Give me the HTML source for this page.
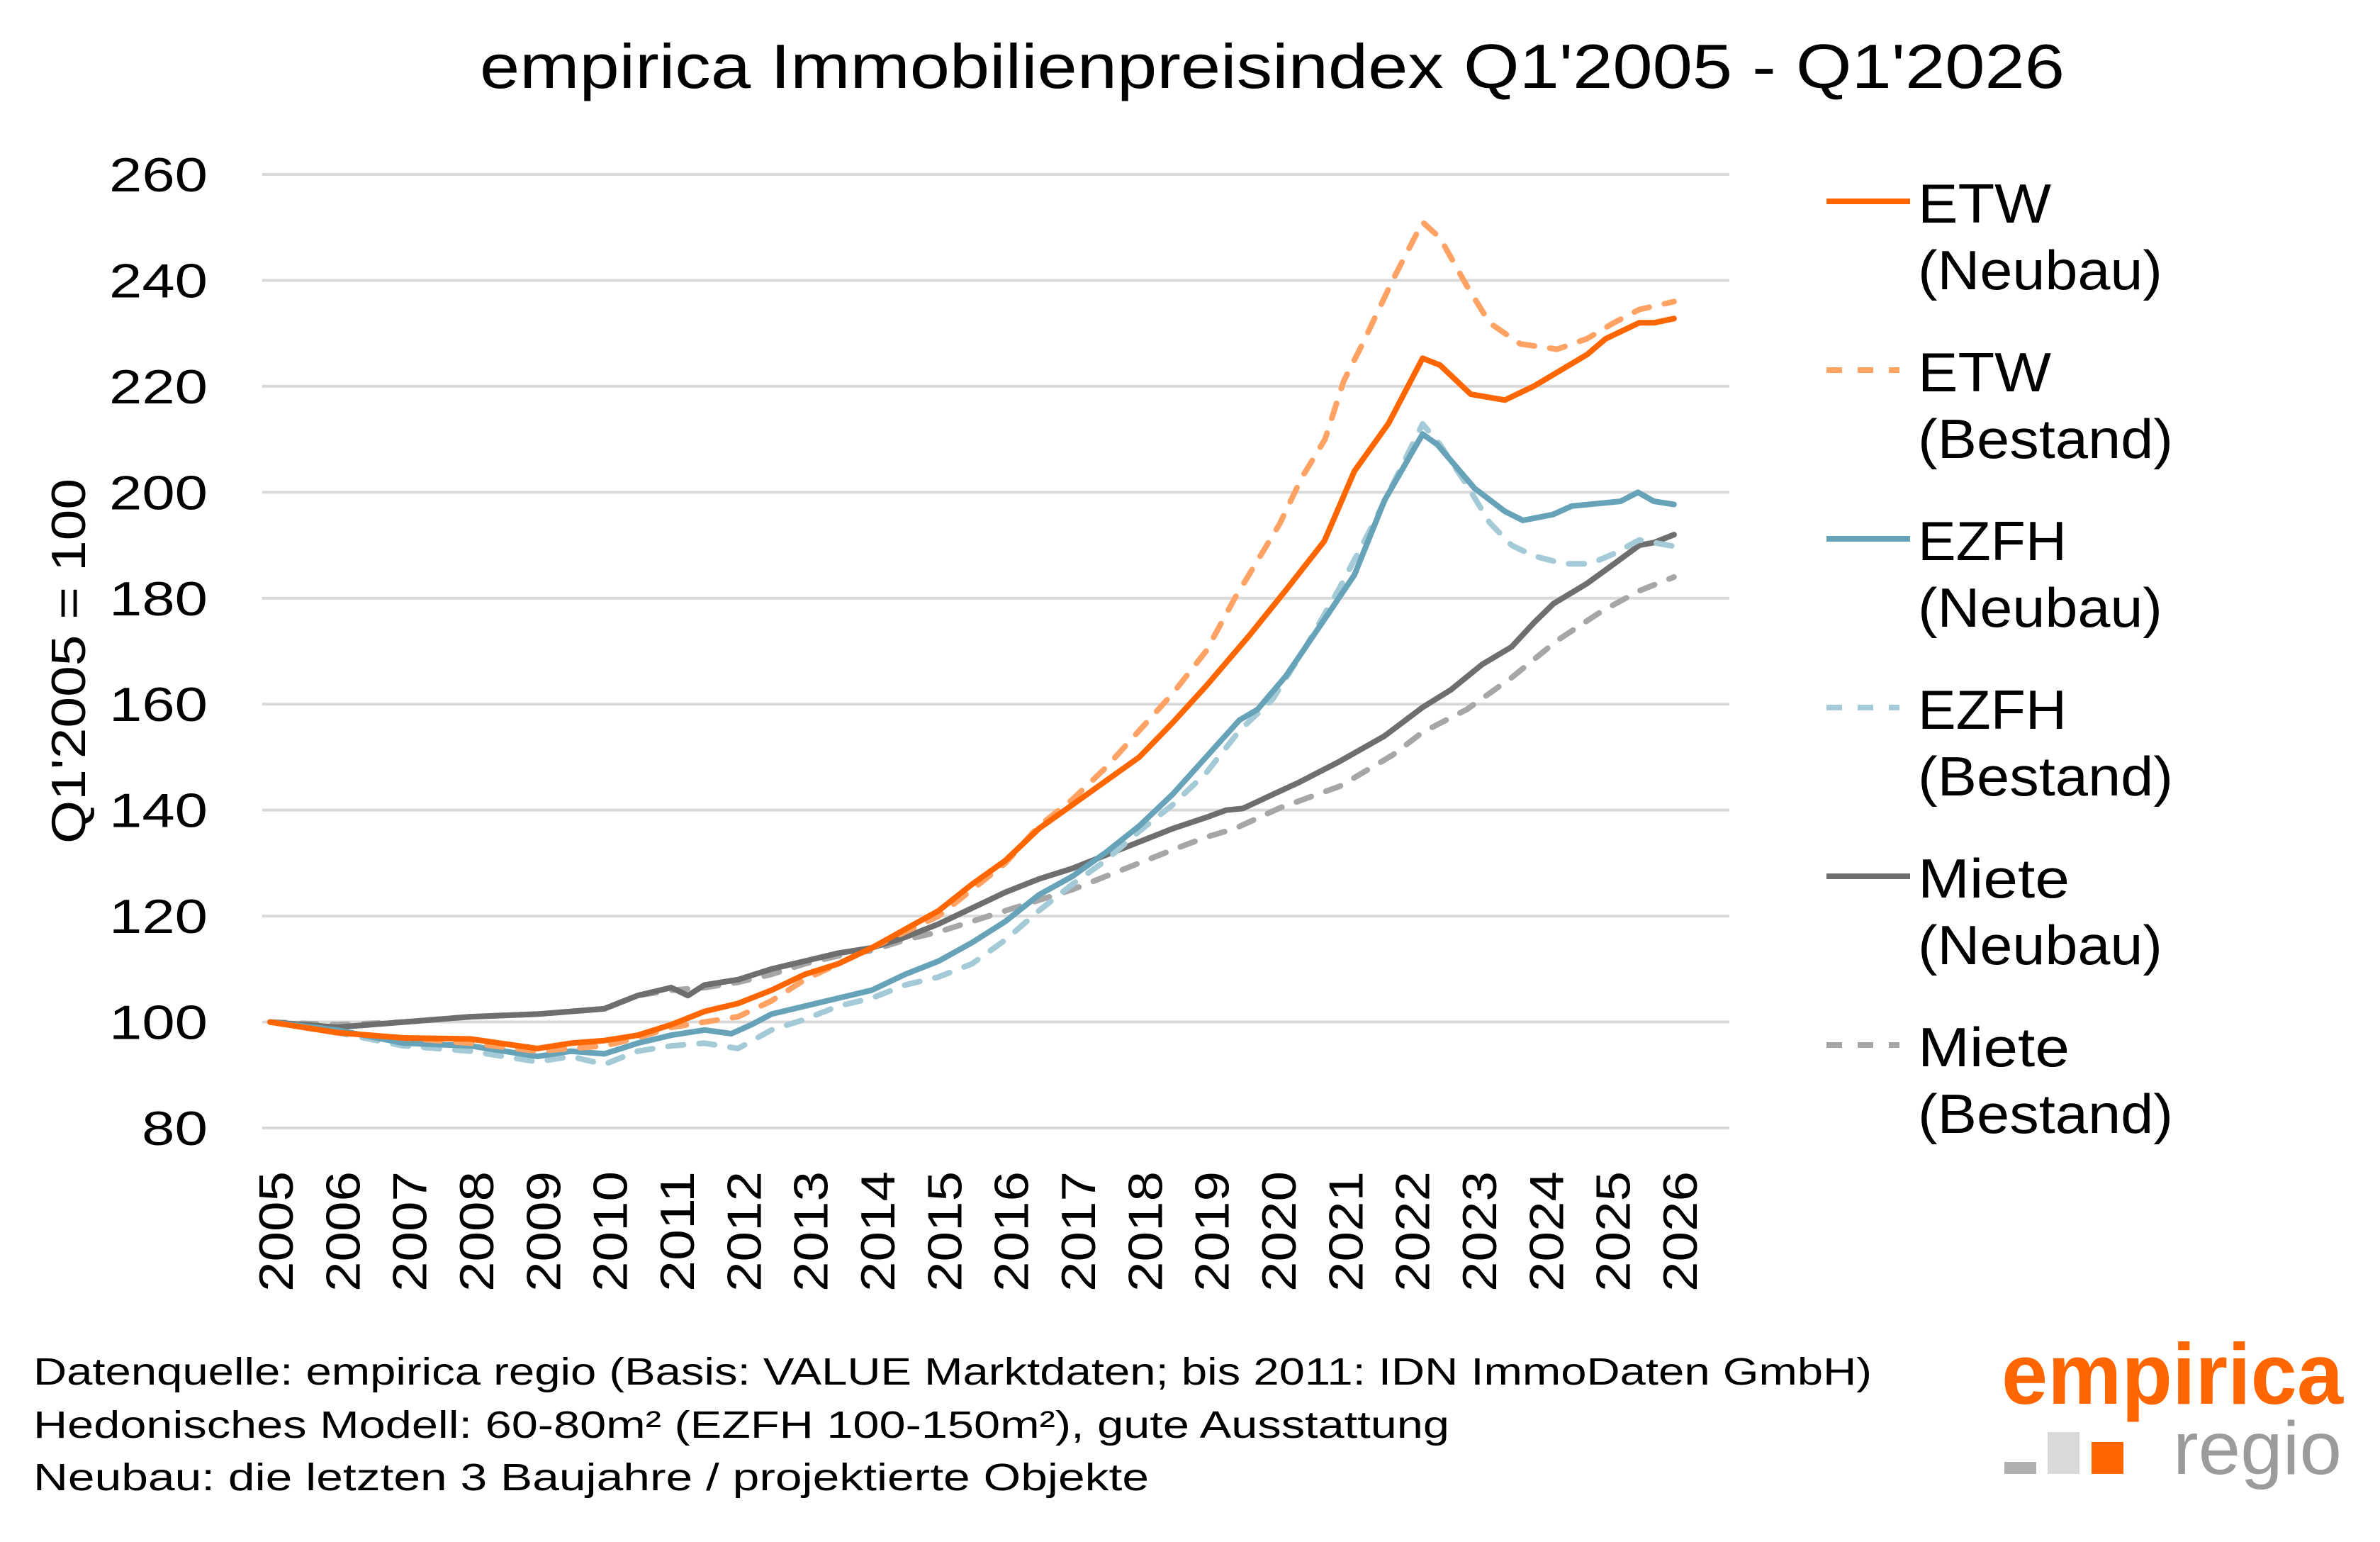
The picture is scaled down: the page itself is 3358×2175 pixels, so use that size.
<!DOCTYPE html>
<html><head><meta charset="utf-8">
<style>
html,body{margin:0;padding:0;background:#fff;}
body{width:3358px;height:2170px;overflow:hidden;font-family:"Liberation Sans",sans-serif;}
</style></head>
<body>
<svg id="c" width="3358" height="2170" viewBox="0 0 3358 2170" xmlns="http://www.w3.org/2000/svg" font-family="Liberation Sans, sans-serif">
<rect width="3358" height="2170" fill="#fff"/>
<text x="677" y="124" font-size="88" fill="#000" textLength="2236" lengthAdjust="spacingAndGlyphs">empirica Immobilienpreisindex Q1'2005 - Q1'2026</text>
<g id="grid" stroke="#d9d9d9" stroke-width="4"></g>
<g id="ylab" font-size="68" fill="#000"></g>
<g id="xlab" font-size="68" fill="#000"></g>
<text transform="translate(120,1190) rotate(-90)" font-size="68" fill="#000" textLength="515" lengthAdjust="spacingAndGlyphs">Q1'2005 = 100</text>
<g id="series" fill="none" stroke-width="8" stroke-linejoin="round" stroke-linecap="round"></g>
<g id="legend" font-size="78" fill="#000"></g>
<g font-size="54" fill="#000">
<text x="47" y="1953" textLength="2594" lengthAdjust="spacingAndGlyphs">Datenquelle: empirica regio (Basis: VALUE Marktdaten; bis 2011: IDN ImmoDaten GmbH)</text>
<text x="47" y="2028" textLength="1998" lengthAdjust="spacingAndGlyphs">Hedonisches Modell: 60-80m² (EZFH 100-150m²), gute Ausstattung</text>
<text x="47" y="2102" textLength="1574" lengthAdjust="spacingAndGlyphs">Neubau: die letzten 3 Baujahre / projektierte Objekte</text>
</g>
<text x="3306" y="1980" font-size="122" font-weight="bold" text-anchor="end" fill="#ff6600" textLength="482" lengthAdjust="spacingAndGlyphs">empirica</text>
<text x="3304" y="2079" font-size="106" text-anchor="end" fill="#9b9b9b" textLength="238" lengthAdjust="spacingAndGlyphs">regio</text>
<rect x="2828" y="2062" width="45" height="17" fill="#b0b0b0"/>
<rect x="2889" y="2020" width="45" height="59" fill="#d9d9d9"/>
<rect x="2951" y="2034" width="45" height="45" fill="#ff6600"/>
</svg>
<script>
var NS="http://www.w3.org/2000/svg";
function X(yr){return 381+(yr-2005)*94.33;}
function Y(v){return 1591-(v-80)*7.472;}
function el(p,t,a,txt){var e=document.createElementNS(NS,t);for(var k in a)e.setAttribute(k,a[k]);if(txt)e.textContent=txt;document.getElementById(p).appendChild(e);return e;}
for(var v=80;v<=260;v+=20){el("grid","line",{x1:370,x2:2440,y1:Y(v),y2:Y(v)});var w=v<100?93:139;el("ylab","text",{x:293-w,y:Y(v)+24,textLength:w,lengthAdjust:"spacingAndGlyphs"},String(v));}
for(var y=2005;y<=2026;y++){var cx=X(y)+8;el("xlab","text",{transform:"translate("+(cx+24)+",1822) rotate(-90)",textLength:170,lengthAdjust:"spacingAndGlyphs"},String(y));}
var S=[
{c:"#ff6600",d:"",p:[2005,100,2006,98,2007,97,2008,96.8,2009,95,2009.5,96,2010,96.5,2010.5,97.5,2011,99.5,2011.5,102,2012,103.5,2012.5,106,2013,109,2013.5,111,2014,114,2014.5,117.5,2015,121,2015.5,126,2016,130.5,2016.5,136.5,2017,141,2017.5,145.5,2018,150,2018.5,156.5,2019,163.4,2019.65,173,2020.2,181.6,2020.77,190.8,2021.22,204,2021.73,213,2022.24,225.3,2022.5,224,2022.96,218.5,2023.47,217.4,2023.9,220,2024.7,226,2024.98,229,2025.48,232,2025.7,232,2026,232.8]},
{c:"#ffa264",d:"22 22",p:[2005,100,2006,98,2007,97,2008,96,2009,94.5,2010,95.5,2010.5,97,2011,99,2011.5,100,2012,101,2012.5,104,2013,108,2013.5,111,2014,114,2014.5,117,2015,120,2015.5,125,2016,130,2016.5,137,2017,142,2017.5,148,2018,155,2018.5,162,2019,170,2019.43,180,2020.1,194,2020.43,202.7,2020.78,210,2021.06,221,2021.34,228,2021.79,240,2022.24,251,2022.5,248,2022.9,239,2023.24,232,2023.7,228,2024.25,227,2024.7,229,2025.1,232,2025.48,234.5,2026,236]},
{c:"#66a3b8",d:"",p:[2005,100,2006,98.5,2007,96,2008,95.5,2009,93.5,2009.5,94.5,2010,94,2010.5,96,2011,97.5,2011.5,98.5,2011.9,97.8,2012.2,99.5,2012.5,101.5,2013,103,2013.5,104.5,2014,106,2014.5,109,2015,111.5,2015.5,115,2016,119,2016.5,124,2017,127.5,2017.5,132,2018,137,2018.5,143,2019,150,2019.5,157,2019.77,159,2020.2,165.4,2020.77,176,2021.22,184.4,2021.67,198.5,2022.24,211,2022.46,209,2023.02,200.7,2023.47,196.4,2023.74,194.7,2024.19,195.8,2024.47,197.4,2025.2,198.3,2025.46,200,2025.7,198.3,2026,197.7]},
{c:"#a3cad6",d:"22 22",p:[2005,100,2006,98,2007,95.5,2008,94.5,2009,92.5,2009.5,93.5,2010,92,2010.5,94.5,2011,95.5,2011.5,96,2012,95,2012.5,98.5,2013,100.5,2013.5,103,2014,104.5,2014.5,107,2015,108.5,2015.5,111,2016,115.5,2016.5,121,2017,126,2017.5,130.5,2018,136,2018.5,141,2019,147,2019.5,155,2020,161,2020.5,171,2021,182,2021.5,194,2022.24,212.9,2022.5,209,2022.9,201.4,2023.24,194.3,2023.57,190,2023.9,188,2024.35,186.5,2024.75,186.5,2025.1,188.4,2025.48,191,2026,189.8]},
{c:"#6e6e6e",d:"",p:[2005,100,2006,99,2007,100,2008,101,2009,101.5,2010,102.5,2010.5,105,2011,106.5,2011.25,105,2011.5,107,2012,108,2012.5,110,2013,111.5,2013.5,113,2014,114,2014.5,116,2015,118.5,2015.5,121.5,2016,124.5,2016.5,127,2017,129,2017.5,131.5,2018,134,2018.5,136.5,2019,138.6,2019.3,140,2019.55,140.3,2019.99,142.9,2020.4,145.3,2021,149.2,2021.67,154,2022.24,159.4,2022.66,162.7,2023.13,167.5,2023.57,170.8,2023.9,175.3,2024.2,179,2024.7,182.8,2025.05,186,2025.48,190,2025.7,190.5,2026,192]},
{c:"#a6a6a6",d:"22 22",p:[2005,100,2006,99.5,2007,100,2008,101,2009,101.5,2010,102.5,2010.5,105,2011,106,2011.5,106.5,2012,107.5,2012.5,109,2013,111,2013.5,112.5,2014,113.5,2014.5,115.5,2015,117,2015.5,119,2016,121,2016.5,123,2017,125,2017.5,127.5,2018,130,2018.5,132.5,2019,134.9,2019.43,136.5,2020.1,140.4,2021,144.5,2021.79,150.4,2022.24,154.7,2022.9,159,2023.57,165,2024.25,172,2024.9,177.4,2025.48,181.4,2026,184]}
];
for(var i=5;i>=0;i--){var s=S[i],pts=[];for(var j=0;j<s.p.length;j+=2)pts.push(X(s.p[j]).toFixed(1)+","+Y(s.p[j+1]).toFixed(1));
var a={points:pts.join(" "),stroke:s.c};if(s.d)a["stroke-dasharray"]=s.d;el("series","polyline",a);}
var L=[["ETW","(Neubau)"],["ETW","(Bestand)"],["EZFH","(Neubau)"],["EZFH","(Bestand)"],["Miete","(Neubau)"],["Miete","(Bestand)"]];
var W={"ETW":188,"EZFH":210,"Miete":214,"(Neubau)":345,"(Bestand)":360};
for(var i=0;i<6;i++){var y0=284+i*238;var a={x1:2577,x2:2695,y1:y0,y2:y0,stroke:S[i].c,"stroke-width":8};if(S[i].d){a["stroke-dasharray"]="22 22";a.x2=2680;}el("legend","line",a);
el("legend","text",{x:2706,y:y0+30,textLength:W[L[i][0]],lengthAdjust:"spacingAndGlyphs"},L[i][0]);el("legend","text",{x:2706,y:y0+124,textLength:W[L[i][1]],lengthAdjust:"spacingAndGlyphs"},L[i][1]);}
</script>
</body></html>
